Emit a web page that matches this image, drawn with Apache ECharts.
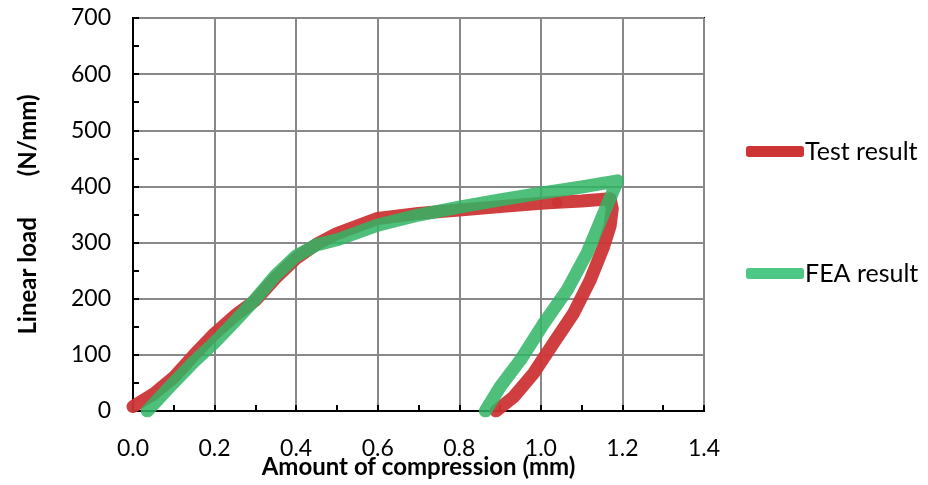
<!DOCTYPE html>
<html>
<head>
<meta charset="utf-8">
<script src="https://cdn.jsdelivr.net/npm/echarts@6/dist/echarts.min.js"></script>
<style>html,body{margin:0;padding:0;background:#fff}#c{width:928px;height:485px}</style>
</head>
<body>
<div id="c"></div>
<script>
// Test result (red)
const testX = [0, 0.05, 0.1, 0.15, 0.2, 0.25, 0.3, 0.35, 0.4, 0.45, 0.5, 0.6, 0.7, 0.8, 0.9, 1.0, 1.04, 1.1, 1.17, 1.175, 1.17, 1.154, 1.121, 1.08, 1.031, 0.982, 0.933, 0.89];
const testY = [8, 30, 60, 100, 138, 170, 197, 237, 272, 297, 316, 343, 352, 358, 364, 370, 372, 374, 378, 360, 330, 293, 233, 174, 121, 67, 25, 0];
// FEA result (green)
const feaX = [0.035, 0.09, 0.15, 0.2, 0.25, 0.3, 0.35, 0.4, 0.45, 0.5, 0.6, 0.7, 0.8, 0.9, 1.0, 1.1, 1.188, 1.154, 1.113, 1.064, 1.007, 0.95, 0.9, 0.864];
const feaY = [0, 43, 88, 122, 160, 199, 242, 276, 296, 305, 331, 349, 363, 376, 388, 399, 410, 352, 281, 215, 156, 91, 43, 0];
// Marker dot on test curve
const dotX = [1.04];
const dotY = [371];

const xTicks = [0, 0.2, 0.4, 0.6, 0.8, 1.0, 1.2, 1.4];
const yTicks = [0, 100, 200, 300, 400, 500, 600, 700];

const zip = (a, b) => a.map((v, i) => [v, b[i]]);
const FONT = 'Lato';

const chart = echarts.init(document.getElementById('c'), null, {renderer: 'canvas'});
chart.setOption({
  animation: false,
  backgroundColor: '#fff',
  grid: {left: 133, right: 224, top: 18, bottom: 74, show: true, borderColor: '#000', borderWidth: 2,
         containLabel: false, outerBoundsMode: 'none'},
  legend: [
    {data: ['Test result'], left: 741, top: 134, icon: 'roundRect', itemWidth: 58, itemHeight: 11, itemGap: 2,
     textStyle: {fontFamily: FONT, fontSize: 25, color: '#000', padding: [0, 0, 0, -4]}},
    {data: ['FEA result'], left: 741, top: 256, icon: 'roundRect', itemWidth: 58, itemHeight: 11, itemGap: 2,
     textStyle: {fontFamily: FONT, fontSize: 25, color: '#000', padding: [0, 0, 0, -4]}}
  ],
  xAxis: {
    type: 'value', min: xTicks[0], max: xTicks[xTicks.length - 1], interval: 0.2,
    name: 'Amount of compression (mm)', nameLocation: 'middle', nameGap: 44, nameMoveOverlap: false,
    nameTextStyle: {fontFamily: FONT, fontSize: 24, fontWeight: 'bold', color: '#000'},
    axisLine: {lineStyle: {color: '#000', width: 2}},
    axisTick: {show: true, inside: true, length: 6, lineStyle: {color: '#000', width: 2}},
    minorTick: {show: true, splitNumber: 2, length: 6, lineStyle: {color: '#000', width: 2}},
    axisLabel: {fontFamily: FONT, fontSize: 23, color: '#000', margin: 26, formatter: v => v.toFixed(1)},
    splitLine: {show: true, lineStyle: {color: '#888', width: 2}}
  },
  yAxis: {
    type: 'value', min: yTicks[0], max: yTicks[yTicks.length - 1], interval: 100,
    name: 'Linear load       (N/mm)', nameLocation: 'middle', nameGap: 93, nameMoveOverlap: false,
    nameTextStyle: {fontFamily: FONT, fontSize: 24, fontWeight: 'bold', color: '#000'},
    axisLine: {lineStyle: {color: '#000', width: 2}},
    axisTick: {show: true, inside: true, length: 6, lineStyle: {color: '#000', width: 2}},
    minorTick: {show: true, splitNumber: 2, length: 6, lineStyle: {color: '#000', width: 2}},
    axisLabel: {fontFamily: FONT, fontSize: 23, color: '#000', margin: 22},
    splitLine: {show: true, lineStyle: {color: '#888', width: 2}}
  },
  series: [
    {name: 'Test result', type: 'line', data: zip(testX, testY), showSymbol: false, symbol: 'none',
     color: '#CD3535',
     lineStyle: {width: 13, cap: 'round', join: 'round', color: '#CD3535', opacity: 0.95}},
    {name: 'FEA result', type: 'line', data: zip(feaX, feaY), showSymbol: false, symbol: 'none',
     color: '#4CC784',
     lineStyle: {width: 13, cap: 'round', join: 'round', color: '#30B565', opacity: 0.85}},
    {name: 'dot', type: 'scatter', data: zip(dotX, dotY), symbolSize: 11, itemStyle: {color: '#C80000', opacity: 0.9}, z: 1}
  ]
});
</script>
</body>
</html>
